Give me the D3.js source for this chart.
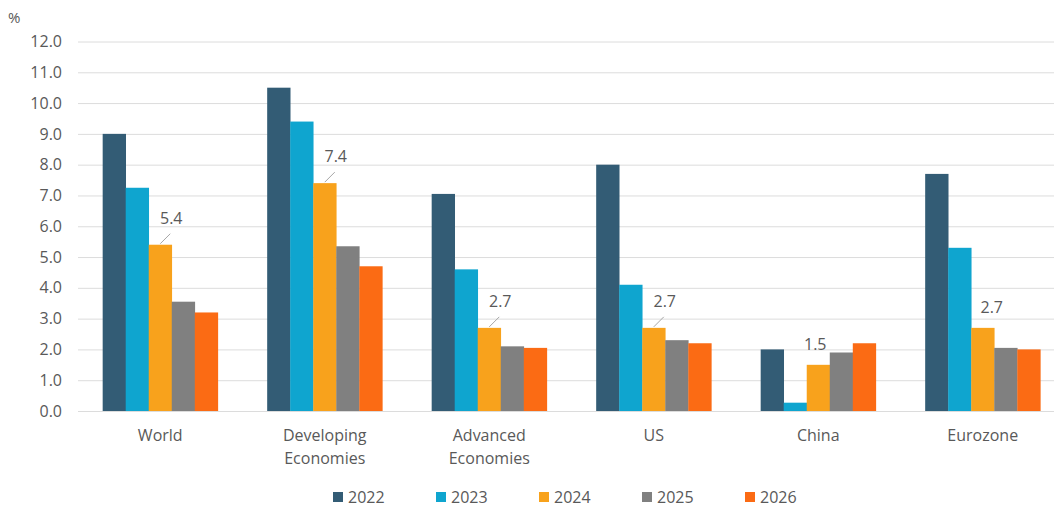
<!DOCTYPE html>
<html>
<head>
<meta charset="utf-8">
<script src="https://cdn.jsdelivr.net/npm/d3@7"></script>
<style>
  body { margin: 0; background: #fff; }
  text { font-family: "Open Sans", "Noto Sans", sans-serif; fill: #595959; }
</style>
</head>
<body>
<script>
// data
var categories = [["World"], ["Developing", "Economies"], ["Advanced", "Economies"], ["US"], ["China"], ["Eurozone"]];
var years = ["2022", "2023", "2024", "2025", "2026"];
var v2022 = [9.0, 10.5, 7.05, 8.0, 2.0, 7.7];
var v2023 = [7.25, 9.4, 4.6, 4.1, 0.27, 5.3];
var v2024 = [5.4, 7.4, 2.7, 2.7, 1.5, 2.7];
var v2025 = [3.55, 5.35, 2.1, 2.3, 1.9, 2.05];
var v2026 = [3.2, 4.7, 2.05, 2.2, 2.2, 2.0];
var yTicks = [0, 1, 2, 3, 4, 5, 6, 7, 8, 9, 10, 11, 12];
var colors = ["#335c75", "#0fa5cf", "#f8a21c", "#808080", "#fb6b14"];
// label offsets for the 2024 data labels (dx, dy from bar top), leader line or not
var labelOffsets = [[11, -17, true], [11, -17, true], [11, -17, true], [11, -17, true], [-3, -11, false], [9, -11, false]];

var series = [v2022, v2023, v2024, v2025, v2026];

function GrowthChart(width, height) {
    this.width = width;
    this.height = height;
    var svg = this.render();
    return svg;
}

GrowthChart.prototype.render = function() {
    var self = this;
    var svg = d3.select("body").append("svg")
                .attr("width", self.width)
                .attr("height", self.height);

    var x0 = d3.scaleBand()
               .domain(d3.range(categories.length))
               .range([78, 1065])
               .paddingInner(0.3)
               .paddingOuter(0.15);

    var x1 = d3.scaleBand()
               .domain(d3.range(years.length))
               .range([0, x0.bandwidth()]);

    var y = d3.scaleLinear().domain([0, 12]).range([411, 41.5]);

    // grid lines
    svg.append("g").selectAll("line")
        .data(yTicks)
        .enter().append("line")
        .attr("x1", 78).attr("x2", self.width)
        .attr("y1", function(d) { return y(d) + 0.5; })
        .attr("y2", function(d) { return y(d) + 0.5; })
        .attr("stroke", "#dcdcdc")
        .attr("stroke-width", 1);

    // y axis labels
    var yAxis = d3.axisLeft(y).tickValues(yTicks).tickFormat(d3.format(".1f")).tickSize(0).tickPadding(0);
    var gy = svg.append("g").attr("transform", "translate(62,0)").call(yAxis);
    gy.select(".domain").remove();
    gy.selectAll("text").style("font-size", "16px").attr("fill", "#595959")
      .attr("font-family", "Open Sans, sans-serif");

    svg.append("text").attr("x", 8).attr("y", 23).style("font-size", "15px").text("%");

    // bars
    var groups = svg.append("g").selectAll("g")
        .data(categories)
        .enter().append("g")
        .attr("transform", function(d, i) { return "translate(" + x0(i) + ",0)"; });

    groups.selectAll("rect")
        .data(function(d, i) { return series.map(function(s, k) { return { k: k, v: s[i] }; }); })
        .enter().append("rect")
        .attr("x", function(d) { return x1(d.k); })
        .attr("width", x1.bandwidth() + 0.3)
        .attr("y", function(d) { return y(d.v); })
        .attr("height", function(d) { return y(0) - y(d.v); })
        .attr("fill", function(d) { return colors[d.k]; });

    // 2024 data labels
    categories.forEach(function(c, i) {
        var bx = x0(i) + x1(2) + x1.bandwidth() / 2;
        var by = y(v2024[i]);
        var off = labelOffsets[i];
        if (off[2]) {
            svg.append("line")
               .attr("x1", bx).attr("y1", by - 1)
               .attr("x2", bx + 10).attr("y2", by - 11)
               .attr("stroke", "#a6a6a6").attr("stroke-width", 1);
        }
        svg.append("text")
           .attr("x", bx + off[0]).attr("y", by + off[1] - 4)
           .attr("text-anchor", "middle")
           .style("font-size", "16px")
           .text(d3.format(".1f")(v2024[i]));
    });

    // category labels
    groups.each(function(d, i) {
        var t = d3.select(this).append("text")
            .attr("text-anchor", "middle")
            .style("font-size", "16px");
        d.forEach(function(line, j) {
            t.append("tspan")
             .attr("x", x0.bandwidth() / 2)
             .attr("y", 441 + j * 23)
             .text(line);
        });
    });

    // legend
    var legend = svg.append("g").selectAll("g")
        .data(years)
        .enter().append("g")
        .attr("transform", function(d, i) { return "translate(" + (333 + i * 103) + ",492)"; });
    legend.append("rect").attr("width", 10).attr("height", 10).attr("fill", function(d, i) { return colors[i]; });
    legend.append("text").attr("x", 15).attr("y", 11).style("font-size", "16px").text(function(d) { return d; });

    return svg;
};

new GrowthChart(1054, 509);
</script>
</body>
</html>
